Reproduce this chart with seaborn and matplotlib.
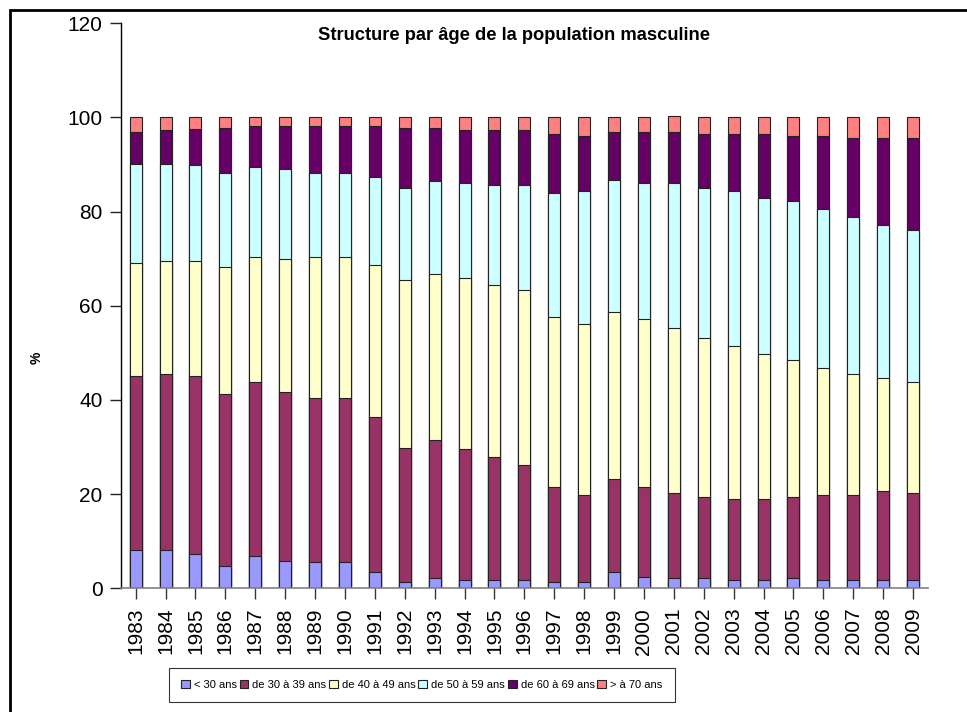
import numpy as np
import pandas as pd
import matplotlib
matplotlib.use("Agg")
import matplotlib.pyplot as plt
from matplotlib.patches import Patch, Rectangle
import seaborn as sns

# Chart data: share (%) of each male age group per year
years = [str(y) for y in range(1983, 2010)]
age_groups = ["< 30 ans", "de 30 à 39 ans", "de 40 à 49 ans",
              "de 50 à 59 ans", "de 60 à 69 ans", "> à 70 ans"]

under_30 = [8.1, 8.1, 7.3, 4.7, 6.8, 5.9, 5.5, 5.5, 3.4, 1.3, 2.1, 1.7, 1.7, 1.7,
            1.3, 1.3, 3.4, 2.5, 2.1, 2.1, 1.7, 1.7, 2.1, 1.7, 1.7, 1.7, 1.7]
age_30_39 = [37.0, 37.4, 37.8, 36.6, 37.1, 35.8, 35.0, 35.0, 32.9, 28.6, 29.5, 27.8, 26.1, 24.4,
             20.2, 18.5, 19.8, 19.0, 18.1, 17.3, 17.3, 17.3, 17.3, 18.1, 18.1, 19.0, 18.5]
age_40_49 = [24.0, 24.1, 24.5, 27.0, 26.5, 28.3, 29.9, 29.9, 32.4, 35.5, 35.1, 36.3, 36.7, 37.2,
             36.2, 36.3, 35.4, 35.8, 35.0, 33.7, 32.5, 30.8, 29.1, 27.0, 25.7, 24.0, 23.6]
age_50_59 = [21.1, 20.6, 20.2, 19.8, 19.0, 19.0, 17.7, 17.7, 18.6, 19.7, 19.7, 20.2, 21.1, 22.3,
             26.2, 28.2, 28.2, 28.7, 30.8, 32.0, 32.8, 33.2, 33.7, 33.7, 33.3, 32.4, 32.4]
age_60_69 = [6.7, 7.1, 7.7, 9.6, 8.8, 9.2, 10.1, 10.1, 10.9, 12.6, 11.3, 11.3, 11.7, 11.7,
             12.6, 11.7, 10.1, 10.9, 10.9, 11.4, 12.2, 13.5, 13.8, 15.5, 16.8, 18.5, 19.4]
over_70 = [3.1, 2.7, 2.5, 2.3, 1.8, 1.8, 1.8, 1.8, 1.8, 2.3, 2.3, 2.7, 2.7, 2.7,
           3.5, 4.0, 3.1, 3.1, 3.5, 3.5, 3.5, 3.5, 4.0, 4.0, 4.4, 4.4, 4.4]

colors = ["#9999FF", "#993366", "#FFFFCC", "#CCFFFF", "#660066", "#FF8080"]

df = pd.DataFrame({"year": years})
for name, vals in zip(age_groups, [under_30, age_30_39, age_40_49, age_50_59, age_60_69, over_70]):
    df[name] = vals

# cumulative tops, drawn from the tallest down so each layer covers the previous one
cum = df[age_groups].cumsum(axis=1)

sns.set_style("white")
plt.rcParams['font.family'] = ['Liberation Sans', 'DejaVu Sans']
plt.rcParams['text.color'] = 'black'
plt.rcParams['xtick.color'] = 'black'
plt.rcParams['ytick.color'] = 'black'

fig = plt.figure(figsize=(9.67, 7.12), dpi=100)
ax = fig.add_axes([0.1248, 0.1737, 0.9597 - 0.1248, 0.9673 - 0.1737])

for name, col in reversed(list(zip(age_groups, colors))):
    sns.barplot(x=df["year"], y=cum[name], color=col, saturation=1, width=0.4,
                edgecolor="#222222", linewidth=0.8, ax=ax, order=years)

ax.set_ylim(0, 120)
ax.set_xlim(-0.5, len(years) - 0.5)
ax.set_yticks(range(0, 121, 20))
ax.set_xlabel("")
ax.set_ylabel("")
ax.tick_params(axis="y", labelsize=15, length=8, width=1, color="#222222", pad=5, left=True)
ax.tick_params(axis="x", labelsize=15, length=8, width=1, color="#333333", pad=6,
               labelrotation=90, bottom=True)
for s in ["top", "right"]:
    ax.spines[s].set_visible(False)
ax.spines["left"].set_color("#000000")
ax.spines["bottom"].set_color("#808080")
ax.spines["left"].set_linewidth(1)
ax.spines["bottom"].set_linewidth(1.2)

fig.text(514 / 967, 1 - 35 / 712, "Structure par âge de la population masculine",
         ha="center", va="center", fontsize=13.2, fontweight="bold")
fig.text(37 / 967, 1 - 358 / 712, "%", rotation=90, ha="center", va="center",
         fontsize=10, fontweight="bold")

handles = [Patch(facecolor=c, edgecolor="#222222", linewidth=0.8) for c in colors]
leg = fig.legend(handles, age_groups, loc="center", bbox_to_anchor=(421.7 / 967, 1 - 685 / 712),
                 ncol=6, fontsize=8, frameon=True, fancybox=False, edgecolor="black",
                 handlelength=0.8, handleheight=0.8, handletextpad=0.35, columnspacing=0.25,
                 borderpad=1.1, borderaxespad=0)
leg.get_frame().set_linewidth(0.8)

# outer chart-area border (left and top edges visible)
fig.patches.append(Rectangle((10 / 967, -0.1), 1.2, 1 - 10 / 712 + 0.1, transform=fig.transFigure,
                             fill=False, edgecolor="black", linewidth=2))

fig.savefig("out.png", dpi=100)
